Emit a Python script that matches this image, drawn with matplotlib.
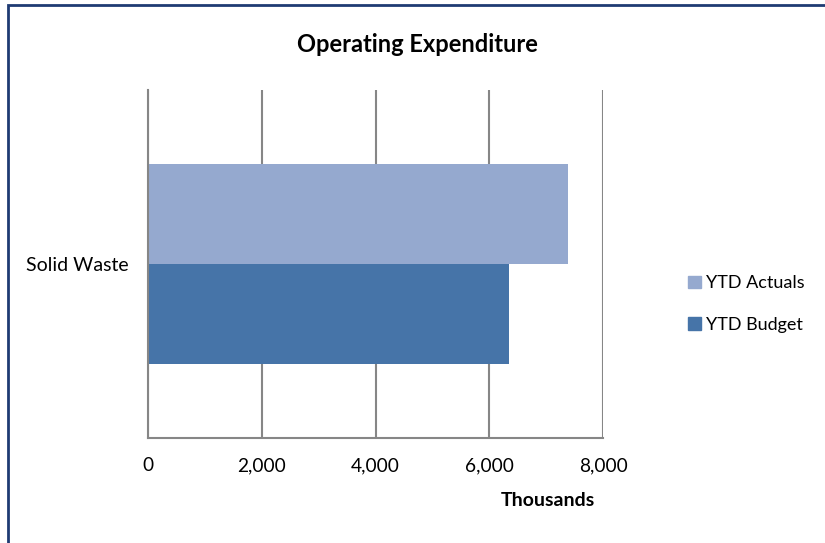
import matplotlib
matplotlib.use("Agg")
import matplotlib.pyplot as plt
from matplotlib.patches import Rectangle, Patch
from matplotlib.ticker import FuncFormatter

categories = ["Solid Waste"]
series_names = ["YTD Actuals", "YTD Budget"]
ytd_actuals = [7385]
ytd_budget = [6347]
x_ticks = [0, 2000, 4000, 6000, 8000]

COL_ACT = "#95A9CF"
COL_BUD = "#4674A8"
GRID = "#868686"

plt.rcParams["font.family"] = ["Lato", "DejaVu Sans"]

fig = plt.figure(figsize=(8.25, 5.43), dpi=100)
ax = fig.add_axes([148 / 825, 1 - 438 / 543, 455 / 825, 348 / 543])

bar_h = 0.2874
y0 = 0
ax.barh(y0 + bar_h / 2, ytd_actuals, height=bar_h, color=COL_ACT, label=series_names[0])
ax.barh(y0 - bar_h / 2, ytd_budget, height=bar_h, color=COL_BUD, label=series_names[1])

ax.set_xlim(0, 8000)
ax.set_ylim(-0.5, 0.5)
ax.set_xticks(x_ticks)
ax.xaxis.set_major_formatter(FuncFormatter(lambda v, p: f"{int(v):,}"))
ax.set_yticks([0])
ax.set_yticklabels(categories)
ax.tick_params(axis="x", length=0, pad=14, labelsize=13.8)
ax.tick_params(axis="y", length=0, pad=14, labelsize=14)

ax.grid(axis="x", color=GRID, linewidth=1.5)
ax.set_axisbelow(True)
for s in ["top", "right"]:
    ax.spines[s].set_visible(False)
for s in ["left", "bottom"]:
    ax.spines[s].set_color(GRID)
    ax.spines[s].set_linewidth(1.5)

ax.set_xlabel("Thousands", fontsize=14, fontweight="bold", va="center")
ax.xaxis.set_label_coords((548 - 148) / 455, (438 - 500) / 348)

fig.text(417 / 825, 1 - 45 / 543, "Operating Expenditure", ha="center", va="center",
         fontsize=17, fontweight="bold")

handles = [Patch(color=COL_ACT, label=series_names[0]), Patch(color=COL_BUD, label=series_names[1])]
fig.legend(handles=handles, loc="center left", bbox_to_anchor=(688 / 825, 1 - 304 / 543),
           frameon=False, fontsize=13, handlelength=0.7, handleheight=0.7,
           handletextpad=0.3, labelspacing=1.4, borderpad=0, borderaxespad=0)

# outer chart border (cropped at right and bottom)
fig.patches.append(Rectangle((8 / 825, -0.1), 1.2, 1 - 5 / 543 + 0.1, transform=fig.transFigure,
                             fill=False, edgecolor="#1F3B73", linewidth=2))

fig.savefig("out.png", dpi=100)
